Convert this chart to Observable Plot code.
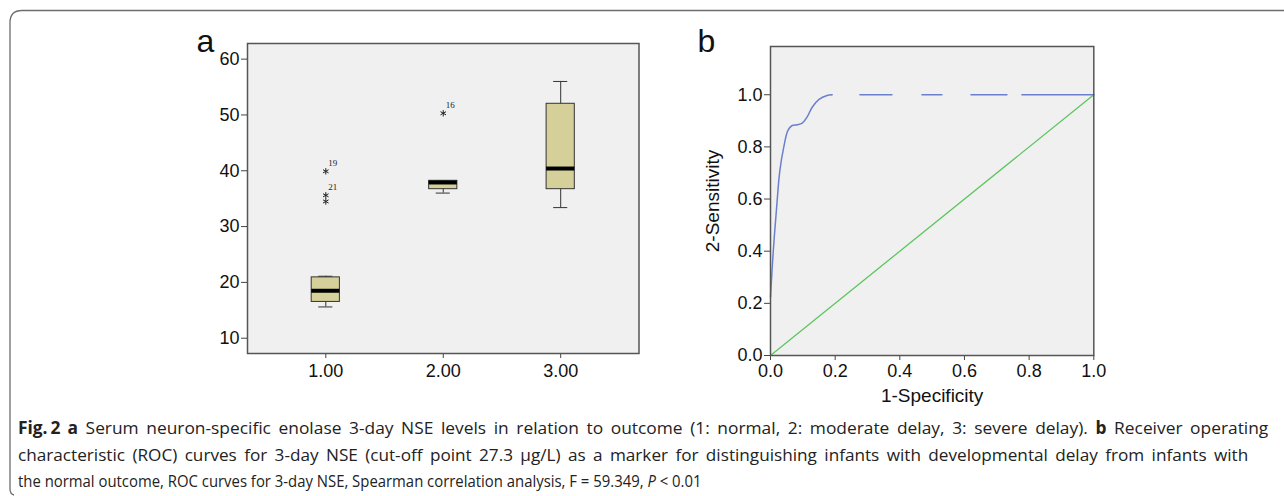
<!DOCTYPE html>
<html><head><meta charset="utf-8">
<script src="https://cdn.jsdelivr.net/npm/d3@7"></script>
<script src="https://cdn.jsdelivr.net/npm/@observablehq/plot@0.6"></script>
<style>
body{margin:0;background:#fff;}
#wrap{position:relative;width:1284px;height:496px;overflow:hidden;background:#fff;font-family:"Liberation Sans",Arial,sans-serif;}
.abs{position:absolute;top:0;}
</style></head><body><div id="wrap"></div>
<script>
// ---------- Panel a: box plot data ----------
const groups = [1, 2, 3];
const groupLabels = ["1.00", "2.00", "3.00"];
const whiskerLow = [15.6, 36.0, 33.4];
const quartile1 = [16.5, 36.7, 36.7];
const median = [18.5, 37.9, 40.4];
const quartile3 = [20.9, 38.2, 52.0];
const whiskerHigh = [21.1, 38.2, 56.0];
const outlierGroup = [1, 1, 1, 2];
const outlierValue = [39.9, 35.6, 34.5, 50.3];
const outlierLabel = ["19", "21", "", "16"];
const yTicksA = [10, 20, 30, 40, 50, 60];

// ---------- Panel b: ROC data ----------
const rocFpr = [0, 0.008, 0.019, 0.029, 0.041, 0.054, 0.067, 0.083, 0.098, 0.113, 0.129, 0.15, 0.175, 0.19];
const rocTpr = [0.224, 0.39, 0.569, 0.71, 0.799, 0.863, 0.882, 0.885, 0.891, 0.914, 0.952, 0.982, 0.997, 1.0];
const tailFpr = [0.19, 1.0];
const tailTpr = [1.0, 1.0];
const refFpr = [0, 1];
const refTpr = [0, 1];
const ticksB = [0, 0.2, 0.4, 0.6, 0.8, 1.0];

const wrap = document.getElementById("wrap");
const fontAxis = "Liberation Sans, Arial, sans-serif";

// ---------- Panel a ----------
const boxes = groups.map((g, i) => ({g, lo: whiskerLow[i], q1: quartile1[i], med: median[i], q3: quartile3[i], hi: whiskerHigh[i]}));
const outliers = outlierGroup.map((g, i) => ({g, v: outlierValue[i], label: outlierLabel[i]}));
const halfBox = 0.12, halfCap = 0.06;

const plotA = Plot.plot({
  width: 660, height: 400,
  marginLeft: 247, marginRight: 21.5, marginTop: 43, marginBottom: 47,
  style: {fontFamily: fontAxis, fontSize: "18px", color: "#111", background: "transparent", overflow: "visible"},
  x: {domain: [1/3, 11/3], label: null},
  y: {domain: [7.26, 62.8], label: null},
  marks: [
    Plot.frame({fill: "#f0f0f0"}),
    Plot.ruleX(boxes, {x: "g", y1: "lo", y2: "hi", stroke: "#333", strokeWidth: 1}),
    Plot.ruleY(boxes, {y: "lo", x1: d => d.g - halfCap, x2: d => d.g + halfCap, stroke: "#333", strokeWidth: 1}),
    Plot.ruleY(boxes, {y: "hi", x1: d => d.g - halfCap, x2: d => d.g + halfCap, stroke: "#333", strokeWidth: 1}),
    Plot.rect(boxes, {x1: d => d.g - halfBox, x2: d => d.g + halfBox, y1: "q1", y2: "q3", fill: "#d5d09a", stroke: "#333", strokeWidth: 1}),
    Plot.ruleY(boxes, {y: "med", x1: d => d.g - halfBox, x2: d => d.g + halfBox, stroke: "#000", strokeWidth: 4}),
    Plot.dot(outliers, {x: "g", y: "v", symbol: "asterisk", r: 3, stroke: "#222", strokeWidth: 1}),
    Plot.text(outliers, {x: "g", y: "v", text: "label", fontFamily: "Liberation Serif, serif", fontSize: 9, dx: 7, dy: -8, fill: "#222"}),
    Plot.axisX({ticks: groups, tickFormat: d => groupLabels[groups.indexOf(d)], tickSize: 5, tickPadding: 6, fontSize: 18, label: null, stroke: "#444"}),
    Plot.axisY({ticks: yTicksA, tickSize: 6, tickPadding: 2, fontSize: 18, label: null, stroke: "#444"}),
    Plot.frame({stroke: "#555", strokeWidth: 1.5}),
    Plot.text(["a"], {frameAnchor: "top-left", textAnchor: "middle", lineAnchor: "middle", text: d => d, dx: -42, dy: -2, fontSize: 32, fontFamily: fontAxis, fill: "#111"})
  ]
});
plotA.classList.add("abs");
plotA.style.left = "0px";
wrap.appendChild(plotA);

// ---------- Panel b ----------
const rocPts = rocFpr.map((x, i) => ({x, y: rocTpr[i]}));
const tailPts = tailFpr.map((x, i) => ({x, y: tailTpr[i]}));
const refPts = refFpr.map((x, i) => ({x, y: refTpr[i]}));

const plotB = Plot.plot({
  width: 644, height: 400,
  marginLeft: 130, marginRight: 190.7, marginTop: 46, marginBottom: 45,
  style: {fontFamily: fontAxis, fontSize: "18px", color: "#111", background: "transparent", overflow: "visible"},
  x: {domain: [0, 1], label: null},
  y: {domain: [0, 1.185], label: null},
  marks: [
    Plot.frame({fill: "#f0f0f0"}),
    Plot.line(refPts, {x: "x", y: "y", stroke: "#5cc65c", strokeWidth: 1.3}),
    Plot.line(rocPts, {x: "x", y: "y", curve: "catmull-rom", stroke: "#6b80cc", strokeWidth: 1.5}),
    Plot.line(tailPts, {x: "x", y: "y", stroke: "#6b80cc", strokeWidth: 1.5, strokeDasharray: "0,28,32,30,20,29,36,15,71"}),
    Plot.axisX({ticks: ticksB, tickFormat: ".1f", tickSize: 5, tickPadding: 4, fontSize: 18, label: null, stroke: "#444"}),
    Plot.axisY({ticks: ticksB, tickFormat: ".1f", tickSize: 6, tickPadding: 2, fontSize: 18, label: null, stroke: "#444"}),
    Plot.frame({stroke: "#555", strokeWidth: 1.5}),
    Plot.text(["2-Sensitivity"], {frameAnchor: "left", textAnchor: "middle", lineAnchor: "middle", text: d => d, rotate: -90, dx: -58, fontSize: 19, fontFamily: fontAxis, fill: "#111"}),
    Plot.text(["1-Specificity"], {frameAnchor: "bottom", textAnchor: "middle", lineAnchor: "middle", text: d => d, dy: 40, fontSize: 19, fontFamily: fontAxis, fill: "#111"}),
    Plot.text(["b"], {frameAnchor: "top-left", textAnchor: "middle", lineAnchor: "middle", text: d => d, dx: -64, dy: -5, fontSize: 32, fontFamily: fontAxis, fill: "#111"})
  ]
});
plotB.classList.add("abs");
plotB.style.left = "640px";
wrap.appendChild(plotB);

// ---------- Border + caption ----------
const ns = "http://www.w3.org/2000/svg";
const deco = document.createElementNS(ns, "svg");
deco.setAttribute("width", 1284);
deco.setAttribute("height", 496);
deco.setAttribute("class", "abs");
deco.style.left = "0px";
deco.style.pointerEvents = "none";
deco.innerHTML = `
<path d="M1284 10.5 H22 Q10 10.5 10 22.5 V489 Q10 494 14 495" fill="none" stroke="#6e6e6e" stroke-width="1.3"/>
<g font-family="Open Sans, Noto Sans, sans-serif" font-size="17" fill="#222">
<text id="cap1" x="0" y="0" transform="translate(18,434)"><tspan font-weight="bold">Fig.&#8201;2</tspan><tspan dx="7" font-weight="bold">a</tspan> Serum neuron-specific enolase 3-day NSE levels in relation to outcome (1: normal, 2: moderate delay, 3: severe delay). <tspan font-weight="bold">b</tspan> Receiver operating</text>
<text id="cap2" x="0" y="0" transform="translate(18,461)">characteristic (ROC) curves for 3-day NSE (cut-off point 27.3 µg/L) as a marker for distinguishing infants with developmental delay from infants with</text>
<text id="cap3" x="0" y="0" transform="translate(18,487)">the normal outcome, ROC curves for 3-day NSE, Spearman correlation analysis, F = 59.349, <tspan font-style="italic">P</tspan> &lt; 0.01</text>
</g>`;
wrap.appendChild(deco);

// justified caption: glyph scale leaning to each line's own fit, word spacing fills the rest
const lineSpecs = [["#cap1", 1244, 434], ["#cap2", 1231, 461], ["#cap3", 684, 487]];
const nat = lineSpecs.map(([sel]) => deco.querySelector(sel).getComputedTextLength());
const rFit = lineSpecs.map(([, target], i) => target / nat[i]);
const rLast = rFit[2];
lineSpecs.forEach(([sel, target, y], i) => {
  const t = deco.querySelector(sel);
  if (i < 2) {
    const r = Math.min(rFit[i], 0.72 * rFit[i] + 0.28 * rLast);
    const spaces = (t.textContent.match(/ /g) || []).length;
    const extra = Math.max(0, (target / r - nat[i]) / spaces);
    t.setAttribute("word-spacing", extra.toFixed(2));
    t.setAttribute("transform", `translate(18,${y}) scale(${r},1)`);
  } else {
    t.setAttribute("transform", `translate(18,${y}) scale(${rLast},1)`);
  }
});
</script>
</body></html>
